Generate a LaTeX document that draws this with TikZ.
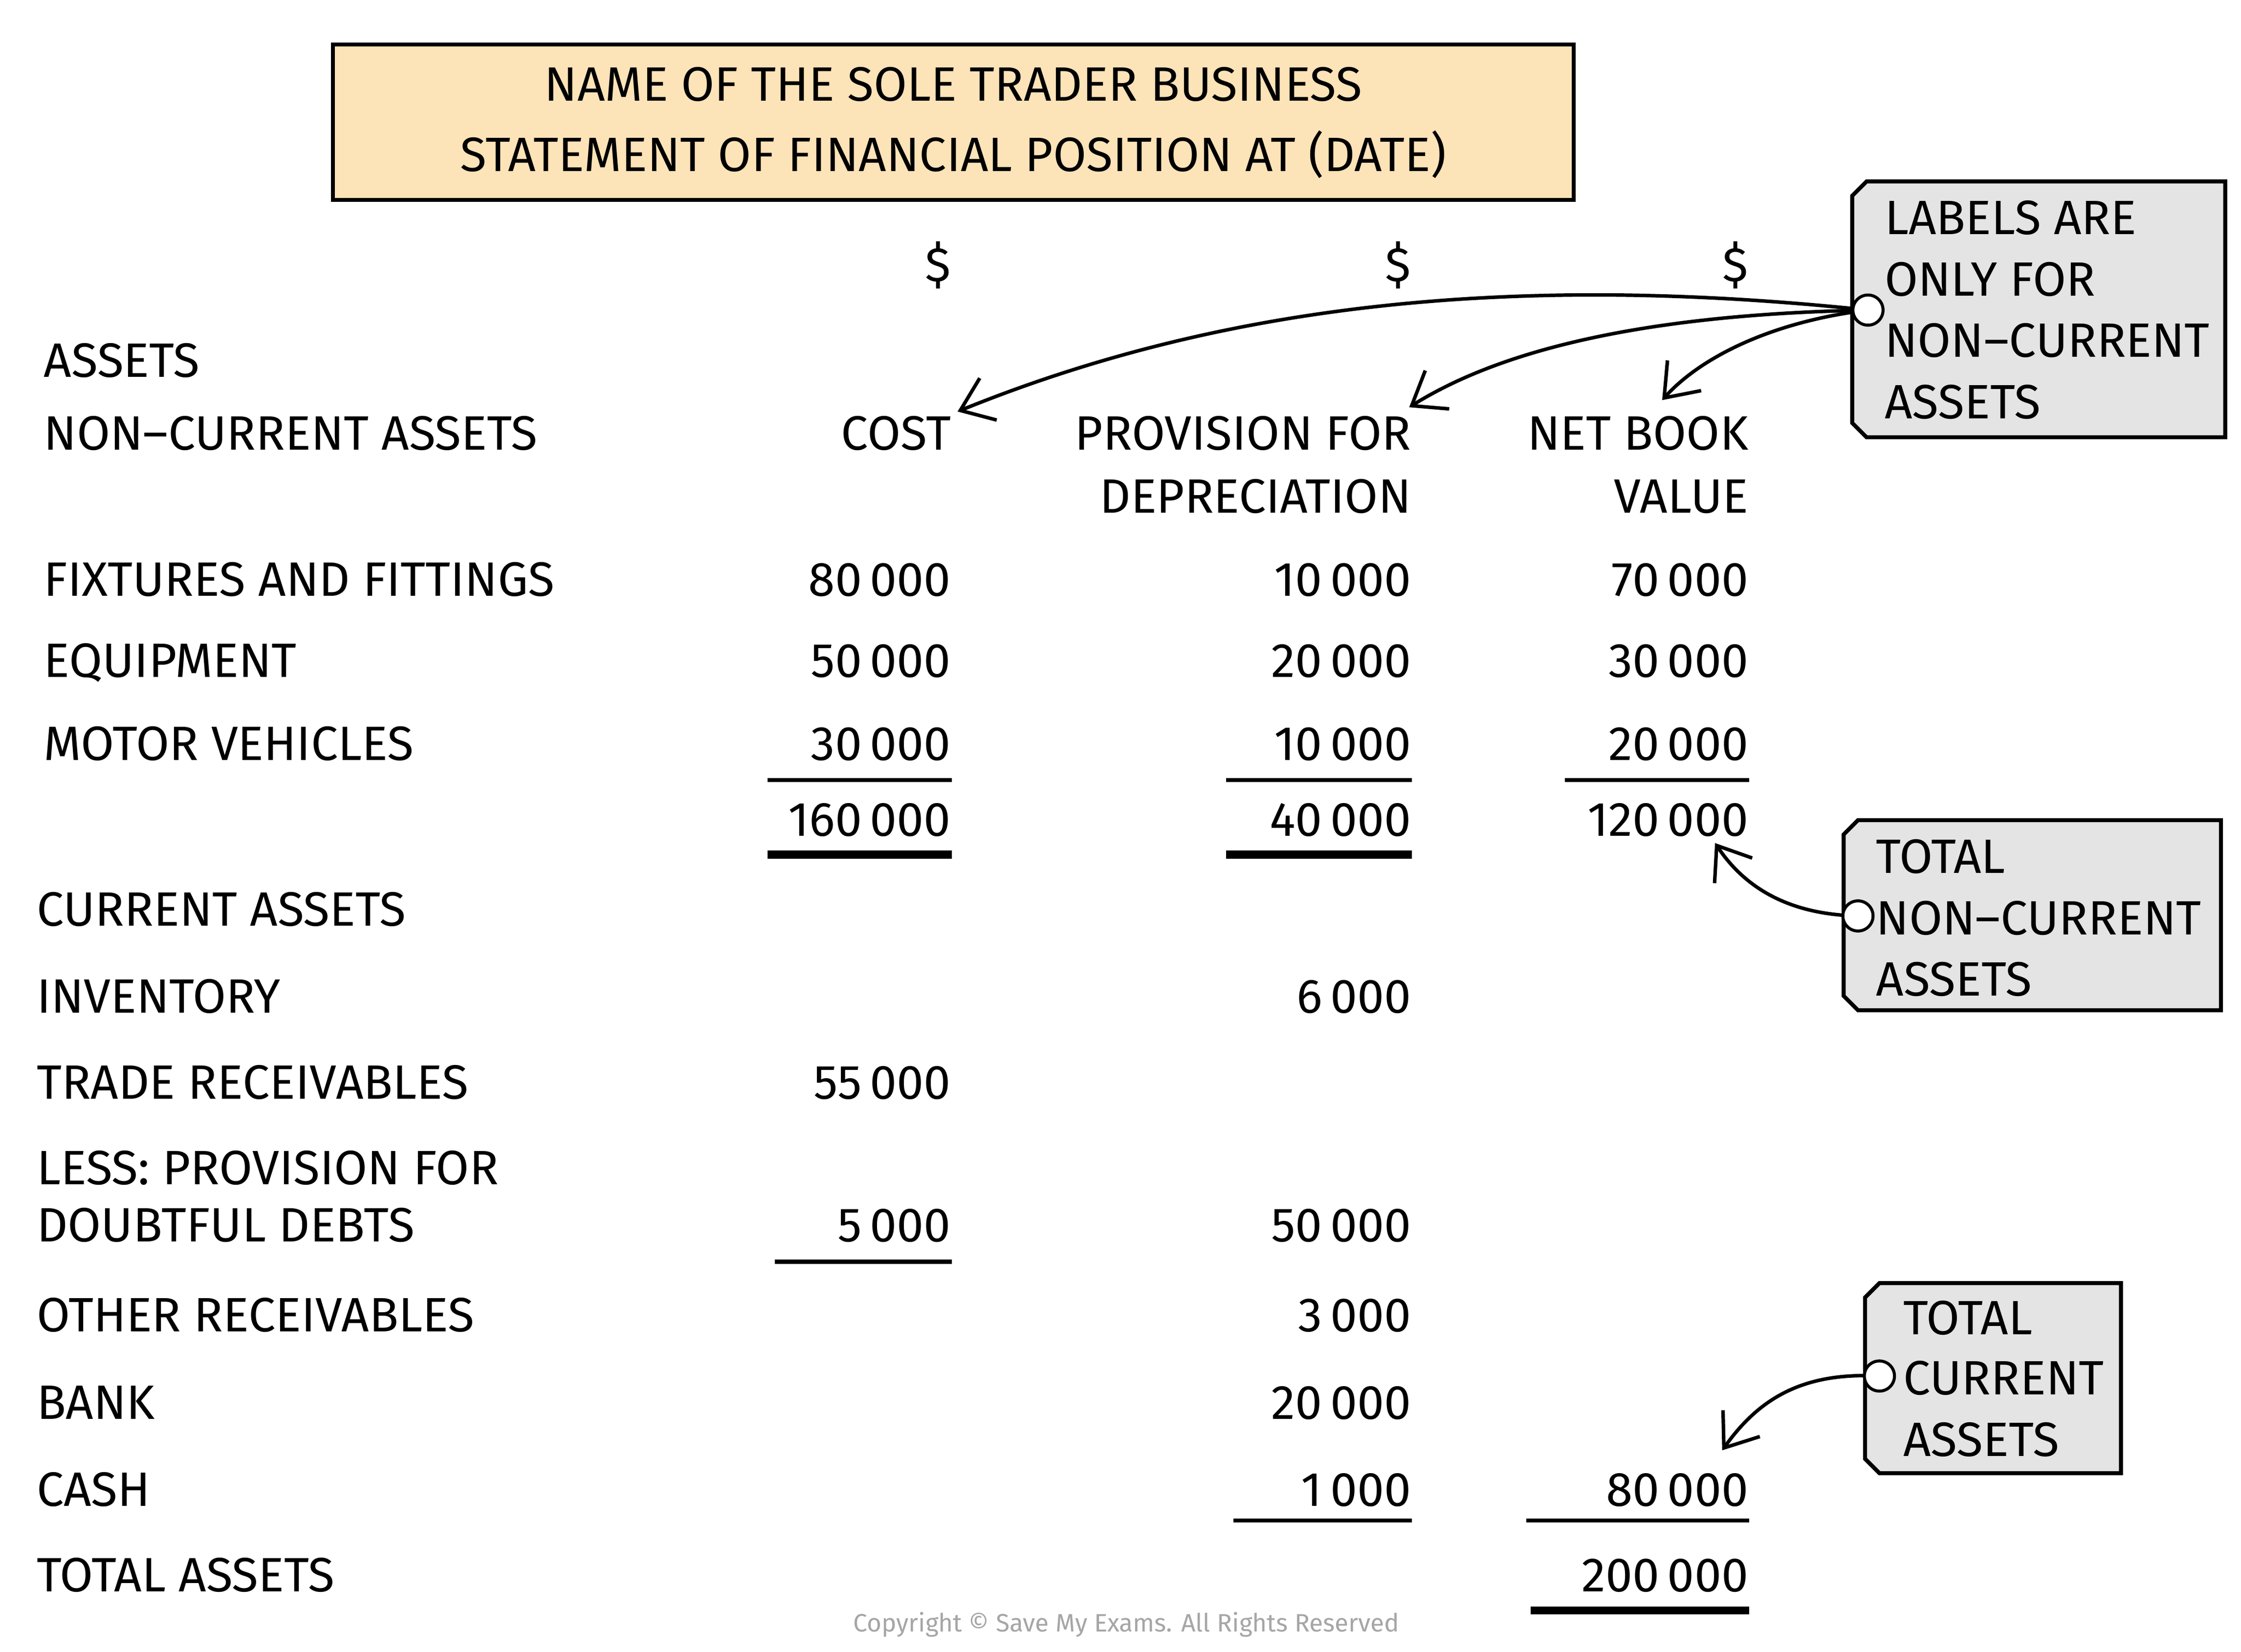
\documentclass[tikz,border=0pt]{standalone}
\usepackage{fontspec}
\setmainfont{Fira Sans}
\usepackage{xcolor}
\usetikzlibrary{arrows.meta}
\definecolor{titlefill}{HTML}{FDE3B8}
\definecolor{notefill}{HTML}{E4E4E4}
\tikzset{
  txt/.style={anchor=base west, inner sep=0pt, font=\fontsize{9.6}{11}\selectfont},
  num/.style={anchor=base east, inner sep=0pt, font=\fontsize{9.6}{11}\selectfont},
  rule/.style={line width=0.8pt},
  thick rule/.style={line width=1.6pt},
  note/.style={draw, line width=0.8pt, fill=notefill},
  pointer/.style={line width=0.7pt, -{Straight Barb[length=6pt, width=9pt]}},
  pin/.style={draw, fill=white, line width=0.6pt}
}
\begin{document}
\begin{tikzpicture}[x=0.01cm, y=-0.01cm]
\useasboundingbox (0,0) rectangle (1568,1156);
% title
\draw[line width=0.8pt, fill=titlefill] (233,31) rectangle (1101,140);
\node[font=\fontsize{9.6}{11}\selectfont, align=center] (title) at (667,86)
  {NAME OF THE SOLE TRADER BUSINESS\\[3pt]STATEMENT OF FINANCIAL POSITION AT (DATE)};
% column heads
\node[num] (d1) at (666,197) {\$};
\node[num] (d2) at (988,197) {\$};
\node[num] (d3) at (1224,197) {\$};
\node[txt] (assets) at (30,264) {ASSETS};
\node[txt] (nca) at (30,315) {NON--CURRENT ASSETS};
\node[num] (cost) at (666,315) {COST};
\node[num] (prov) at (988,315) {PROVISION FOR};
\node[num] (prov2) at (988,359) {DEPRECIATION};
\node[num] (nbv) at (1224,315) {NET BOOK};
\node[num] (nbv2) at (1224,359) {VALUE};
% non-current rows
\node[txt] (ff) at (30,417) {FIXTURES AND FITTINGS};
\node[num] at (666,417) {80\,000};
\node[num] at (988,417) {10\,000};
\node[num] at (1224,417) {70\,000};
\node[txt] (eq) at (30,474) {EQUIPMENT};
\node[num] at (666,474) {50\,000};
\node[num] at (988,474) {20\,000};
\node[num] at (1224,474) {30\,000};
\node[txt] (mv) at (30,532) {MOTOR VEHICLES};
\node[num] at (666,532) {30\,000};
\node[num] at (988,532) {10\,000};
\node[num] at (1224,532) {20\,000};
\draw[rule] (537,546) -- (666,546);
\draw[rule] (858,546) -- (988,546);
\draw[rule] (1095,546) -- (1224,546);
\node[num] (t1) at (666,585) {160\,000};
\node[num] (t2) at (988,585) {40\,000};
\node[num] (t3) at (1224,585) {120\,000};
\draw[thick rule] (537,598) -- (666,598);
\draw[thick rule] (858,598) -- (988,598);
% current assets
\node[txt] (ca) at (25,648) {CURRENT ASSETS};
\node[txt] (inv) at (25,709) {INVENTORY};
\node[num] at (988,709) {6\,000};
\node[txt] (tr) at (25,769) {TRADE RECEIVABLES};
\node[num] at (666,769) {55\,000};
\node[txt] (less) at (25,829) {LESS: PROVISION FOR};
\node[txt] (dd) at (25,869) {DOUBTFUL DEBTS};
\node[num] at (666,869) {5\,000};
\node[num] at (988,869) {50\,000};
\draw[rule] (542,883) -- (666,883);
\node[txt] (or) at (25,932) {OTHER RECEIVABLES};
\node[num] at (988,932) {3\,000};
\node[txt] (bank) at (25,993) {BANK};
\node[num] at (988,993) {20\,000};
\node[txt] (cash) at (25,1054) {CASH};
\node[num] at (988,1054) {1\,000};
\node[num] (t4) at (1224,1054) {80\,000};
\draw[rule] (863,1064) -- (988,1064);
\draw[rule] (1068,1064) -- (1224,1064);
\node[txt] (ta) at (25,1114) {TOTAL ASSETS};
\node[num] (t5) at (1224,1114) {200\,000};
\draw[thick rule] (1071,1127) -- (1224,1127);
\node[font=\fontsize{5}{6}\selectfont, text=gray!70] (copy) at (788,1137) {Copyright \textcopyright\ Save My Exams. All Rights Reserved};
% notes
\draw[note] (1306,127) -- (1557,127) -- (1557,306) -- (1306,306) -- (1296,296) -- (1296,137) -- cycle;
\node[txt, align=left] (n1) at (1318,164) {LABELS ARE};
\node[txt] at (1318,207) {ONLY FOR};
\node[txt] at (1318,250) {NON--CURRENT};
\node[txt] at (1318,293) {ASSETS};
\draw[note] (1300,574) -- (1554,574) -- (1554,707) -- (1300,707) -- (1290,697) -- (1290,584) -- cycle;
\node[txt] (n2) at (1312,611) {TOTAL};
\node[txt] at (1312,654) {NON--CURRENT};
\node[txt] at (1312,697) {ASSETS};
\draw[note] (1315,898) -- (1484,898) -- (1484,1031) -- (1315,1031) -- (1305,1021) -- (1305,908) -- cycle;
\node[txt] (n3) at (1331,934) {TOTAL};
\node[txt] at (1331,976) {CURRENT};
\node[txt] at (1331,1019) {ASSETS};
\coordinate (p1) at (1307,217);
\coordinate (p2) at (1300,641);
\coordinate (p3) at (1315,963);
\draw[pointer] (p1) .. controls (1050,190) and (850,215) .. (670,288);
\draw[pointer] (p1) .. controls (1150,220) and (1050,245) .. (986,285);
\draw[pointer] (p1) .. controls (1240,225) and (1190,250) .. (1163,280);
\draw[pointer] (p2) .. controls (1250,640) and (1220,620) .. (1200,590);
\draw[pointer] (p3) .. controls (1260,960) and (1230,980) .. (1205,1015);
\draw[pin] (p1) circle (3pt);
\draw[pin] (p2) circle (3pt);
\draw[pin] (p3) circle (3pt);
\end{tikzpicture}
\end{document}
